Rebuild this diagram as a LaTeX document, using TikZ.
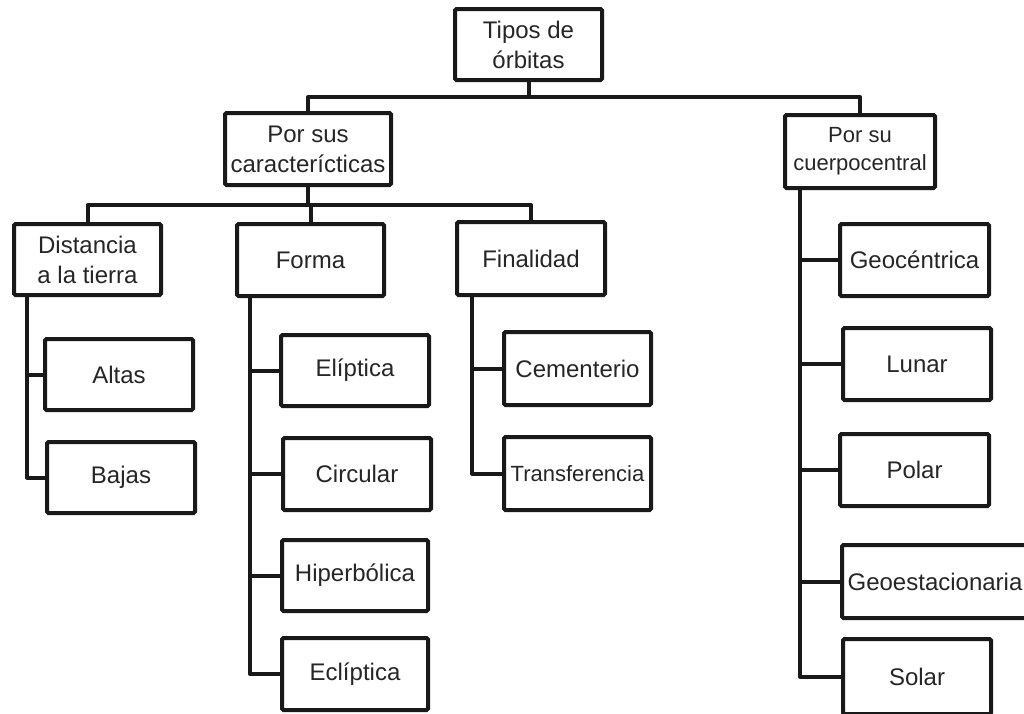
\documentclass[tikz,border=0pt]{standalone}
\usepackage{fontspec}
\setmainfont{Liberation Sans}
\begin{document}
\begin{tikzpicture}[x=1pt,y=-1pt,
  bx/.style={draw=black!90, line width=4pt, rounded corners=1.5pt, fill=white,
    inner sep=0pt, align=center, text=black!85,
    font=\fontsize{24}{30}\selectfont},
  small/.style={font=\fontsize{22}{28}\selectfont},
  ln/.style={draw=black!90, line width=4pt, line join=round}]
\useasboundingbox[fill=white] (0,0) rectangle (1024,713);
% boxes
\node[bx, minimum width=147, minimum height=71] (tipos) at (528.5,44.5) {Tipos de\\órbitas};
\node[bx, minimum width=166, minimum height=72] (sus) at (308,149) {Por sus\\caracterícticas};
\node[bx, small, minimum width=150, minimum height=73] (su) at (860,151.5) {Por su\\cuerpocentral};
\node[bx, minimum width=147, minimum height=71] (dist) at (87.5,259.5) {Distancia\\a la tierra};
\node[bx, minimum width=147, minimum height=72] (forma) at (310.5,260) {Forma};
\node[bx, minimum width=148, minimum height=73] (fin) at (531,258.5) {Finalidad};
\node[bx, minimum width=148, minimum height=71] (altas) at (119,374.5) {Altas};
\node[bx, minimum width=148, minimum height=71] (bajas) at (121,477.5) {Bajas};
\node[bx, minimum width=148, minimum height=71] (elip) at (355,370.5) {Elíptica};
\node[bx, minimum width=148, minimum height=72] (circ) at (357,474) {Circular};
\node[bx, minimum width=146, minimum height=71] (hiper) at (355,575.5) {Hiperbólica};
\node[bx, minimum width=146, minimum height=72] (eclip) at (355,674) {Eclíptica};
\node[bx, minimum width=147, minimum height=73] (cem) at (577.5,368.5) {Cementerio};
\node[bx, small, minimum width=147, minimum height=73] (trans) at (577.5,473.5) {Transferencia};
\node[bx, minimum width=149, minimum height=72] (geoc) at (914.5,260) {Geocéntrica};
\node[bx, minimum width=148, minimum height=72] (lunar) at (917,364) {Lunar};
\node[bx, minimum width=149, minimum height=72] (polar) at (914.5,470) {Polar};
\node[bx, minimum width=186, minimum height=73] (geoe) at (935,581.5) {Geoestacionaria};
\node[bx, minimum width=148, minimum height=75] (solar) at (917,676.5) {Solar};
% level 1
\coordinate (h1) at ([yshift=-15pt]tipos.south);
\draw[ln] (tipos.south) -- (h1);
\draw[ln] (sus.north) |- (h1) -| (su.north);
% level 2
\coordinate (h2) at ([yshift=-18pt]sus.south);
\draw[ln] (sus.south) -- (h2);
\draw[ln] (dist.north) |- (h2) -| (fin.north);
\draw[ln] (forma.north) -- (forma.north |- h2);
% Distancia
\coordinate (dt) at ([xshift=15pt]dist.south west);
\draw[ln] (dt) |- (bajas.west);
\draw[ln] (altas.west) -- (altas.west -| dt);
% Forma
\coordinate (ft) at ([xshift=15pt]forma.south west);
\draw[ln] (ft) |- (eclip.west);
\draw[ln] (elip.west) -- (elip.west -| ft);
\draw[ln] (circ.west) -- (circ.west -| ft);
\draw[ln] (hiper.west) -- (hiper.west -| ft);
% Finalidad
\coordinate (nt) at ([xshift=17pt]fin.south west);
\draw[ln] (nt) |- (trans.west);
\draw[ln] (cem.west) -- (cem.west -| nt);
% Por su cuerpocentral
\coordinate (st) at ([xshift=17pt]su.south west);
\draw[ln] (st) |- (solar.west);
\draw[ln] (geoc.west) -- (geoc.west -| st);
\draw[ln] (lunar.west) -- (lunar.west -| st);
\draw[ln] (polar.west) -- (polar.west -| st);
\draw[ln] (geoe.west) -- (geoe.west -| st);
\end{tikzpicture}
\end{document}
